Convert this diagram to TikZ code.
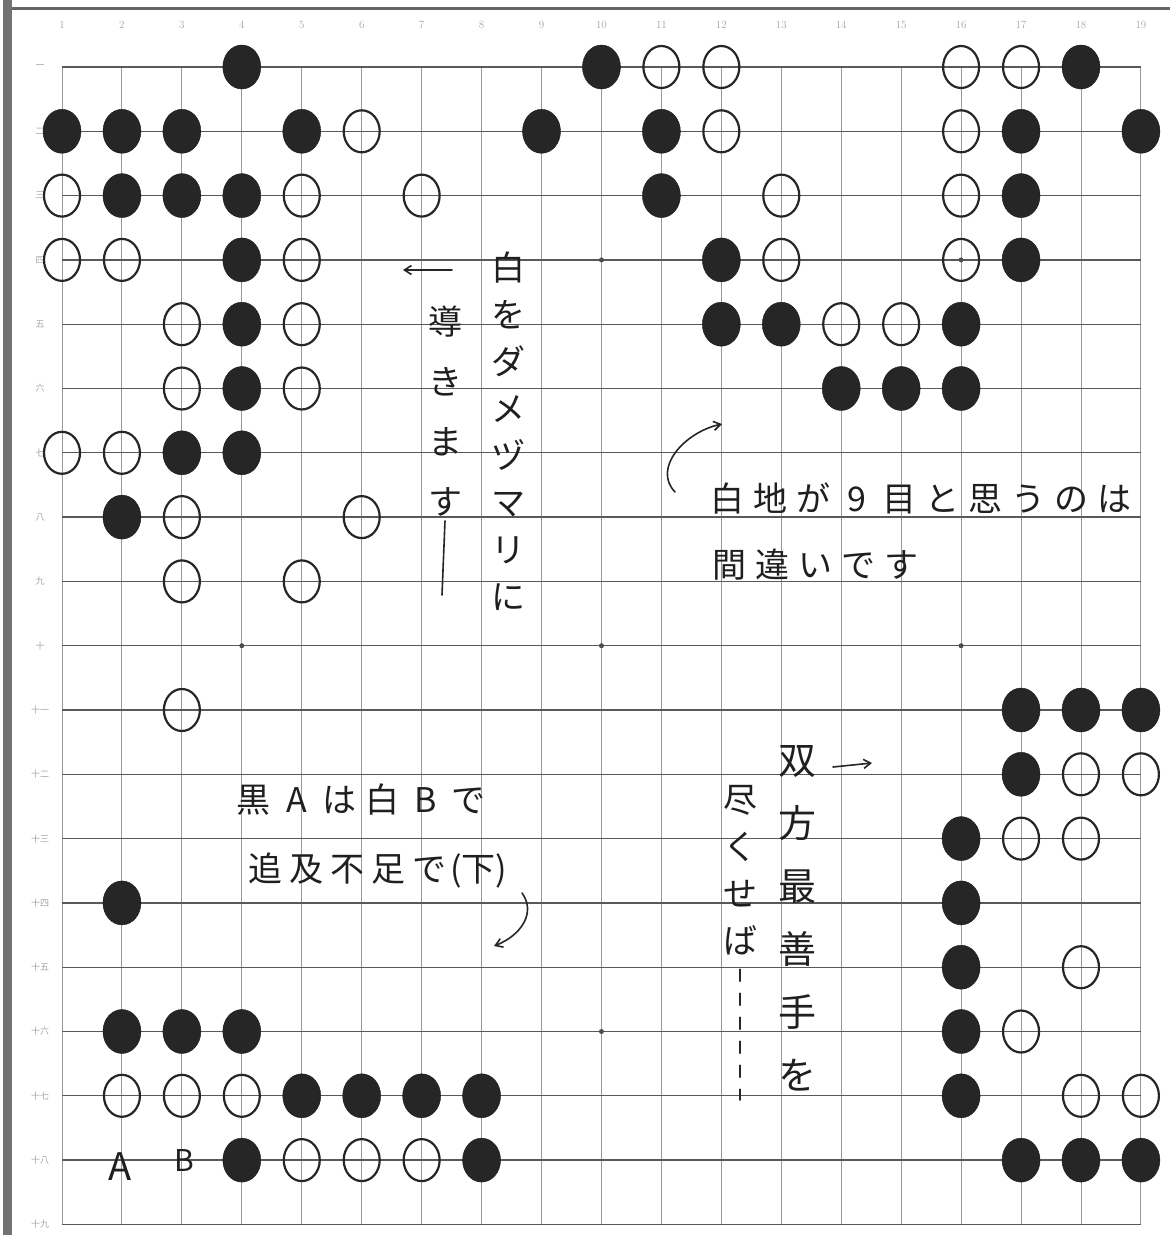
\documentclass[tikz,border=0pt]{standalone}
\usepackage{fontspec}
\newfontfamily\jp{Noto Sans CJK JP}
\usetikzlibrary{shapes.geometric,arrows.meta}
\newcommand\hchar[2][43pt]{\makebox[#1]{#2}}
\tikzset{
  bst/.style={ellipse, fill=black!85, draw=black!90, minimum width=38pt, minimum height=44pt, inner sep=0pt},
  wst/.style={ellipse, draw=black!85, line width=2.2pt, minimum width=36pt, minimum height=42pt, inner sep=0pt},
  hline/.style={draw=black!65, line width=1.3pt},
  vline/.style={draw=black!40, line width=0.9pt},
  hoshi/.style={circle, fill=black!70, inner sep=0pt, minimum size=5pt},
  hand/.style={text=black!88, inner sep=0pt, font=\jp\fontsize{34}{47}\selectfont},
  pen/.style={draw=black!85, line width=1.6pt, line cap=round},
  lbl/.style={text=black!35, inner sep=0pt, font=\fontsize{11}{11}\selectfont},
  rlbl/.style={text=black!35, inner sep=0pt, font=\jp\fontsize{9}{9}\selectfont},
}
\begin{document}
\begin{tikzpicture}[x=1pt, y=-1pt]
\useasboundingbox (0,0) rectangle (1170,1235);
\fill[white] (0,0) rectangle (1170,1235);
% paper edges
\fill[black!55] (3,0) rectangle (12,1235);
\draw[black!60, line width=3pt] (12,8) -- (1170,8);
% labels
\foreach \c in {1,...,19} \node[lbl] (cl\c) at ({62+(\c-1)*59.94},25) {\c};
\foreach \r/\k in {1/一,2/二,3/三,4/四,5/五,6/六,7/七,8/八,9/九,10/十,11/十一,12/十二,13/十三,14/十四,15/十五,16/十六,17/十七,18/十八,19/十九}
  \node[rlbl] (rl\r) at (40,{67+(\r-1)*64.3}) {\k};
\begin{scope}[xshift=2.06pt, yshift=-2.7pt, x=59.94pt, y=-64.3pt]
  \foreach \c in {1,...,19} \draw[vline] (\c,1) -- (\c,19);
  \foreach \r in {1,...,19} \draw[hline] (1,\r) -- (19,\r);
  \foreach \c/\r in {4/4,10/4,16/4,4/10,10/10,16/10,4/16,10/16,16/16}
    \node[hoshi] (h\c-\r) at (\c,\r) {};
  \foreach \c/\r in {4/1,10/1,18/1, 1/2,2/2,3/2,5/2,9/2,11/2,17/2,19/2,
      2/3,3/3,4/3,11/3,17/3, 4/4,12/4,17/4, 4/5,12/5,13/5,16/5,
      4/6,14/6,15/6,16/6, 3/7,4/7, 2/8, 17/11,18/11,19/11, 17/12, 16/13,
      2/14,16/14, 16/15, 2/16,3/16,4/16,16/16, 5/17,6/17,7/17,8/17,16/17,
      4/18,8/18,17/18,18/18,19/18}
    \node[bst] (b\c-\r) at (\c,\r) {};
  \foreach \c/\r in {11/1,12/1,16/1,17/1, 6/2,12/2,16/2, 1/3,5/3,7/3,13/3,16/3,
      1/4,2/4,5/4,13/4,16/4, 3/5,5/5,14/5,15/5, 3/6,5/6, 1/7,2/7, 3/8,6/8,
      3/9,5/9, 3/11, 18/12,19/12, 17/13,18/13, 18/15, 17/16,
      2/17,3/17,4/17,18/17,19/17, 5/18,6/18,7/18}
    \node[wst] (w\c-\r) at (\c,\r) {};
\end{scope}
% A and B
\node[hand, font=\jp\fontsize{38}{38}\selectfont] (la) at (120,1167) {A};
\node[hand, font=\jp\fontsize{30}{30}\selectfont] (lb) at (184,1160) {B};
% annotation 1
\node[hand, anchor=north, align=center] (t1) at (508,252) {白\\を\\ダ\\メ\\ヅ\\マ\\リ\\に};
% annotation 2
\coordinate (a2s) at (452,270);
\coordinate (a2e) at (403,270);
\draw[pen, -{Straight Barb[length=7pt,width=9pt]}] (a2s) -- (a2e);
\node[hand, anchor=north, align=center, font=\jp\fontsize{34}{60}\selectfont] (t2) at (445,306) {導\\き\\ま\\す};
\coordinate (t2e) at (442,595);
\draw[pen] ([yshift=-4pt]t2.south) -- (t2e);
% annotation 3
\node[hand, anchor=west] (t3a) at (706,498) {\hchar{白}\hchar{地}\hchar{が}\hchar{9}\hchar{目}\hchar{と}\hchar{思}\hchar{う}\hchar{の}\hchar{は}};
\node[hand, anchor=west] (t3b) at (708,565) {\hchar{間}\hchar{違}\hchar{い}\hchar{で}\hchar{す}};
\coordinate (c3s) at (675,492);
\coordinate (c3e) at (722,424);
\draw[pen, -{Straight Barb[length=7pt,width=9pt]}] (c3s) .. controls (652,468) and (685,432) .. (c3e);
% annotation 4
\node[hand, anchor=west] (t4a) at (232,800) {\hchar{黒}\hchar{A}\hchar{は}\hchar{白}\hchar{B}\hchar{で}};
\node[hand, anchor=west] (t4b) at (245,870) {\hchar[41pt]{追}\hchar[41pt]{及}\hchar[41pt]{不}\hchar[41pt]{足}\hchar[41pt]{で}(下)};
\coordinate (c4s) at (522,893);
\coordinate (c4e) at (494,946);
\draw[pen, -{Straight Barb[length=7pt,width=9pt]}] (c4s) .. controls (536,912) and (522,935) .. (c4e);
% annotation 5
\node[hand, anchor=north, align=center, font=\jp\fontsize{38}{63}\selectfont] (t5a) at (797,745) {双\\方\\最\\善\\手\\を};
\coordinate (a5s) at (833,767);
\coordinate (a5e) at (872,763);
\draw[pen, -{Straight Barb[length=7pt,width=9pt]}] (a5s) -- (a5e);
\node[hand, anchor=north, align=center] (t5b) at (740,785) {尽\\く\\せ\\ば};
\coordinate (t5e) at (740,1100);
\draw[pen, dash pattern=on 12pt off 12pt] ([yshift=-14pt]t5b.south) -- (t5e);
\end{tikzpicture}
\end{document}
